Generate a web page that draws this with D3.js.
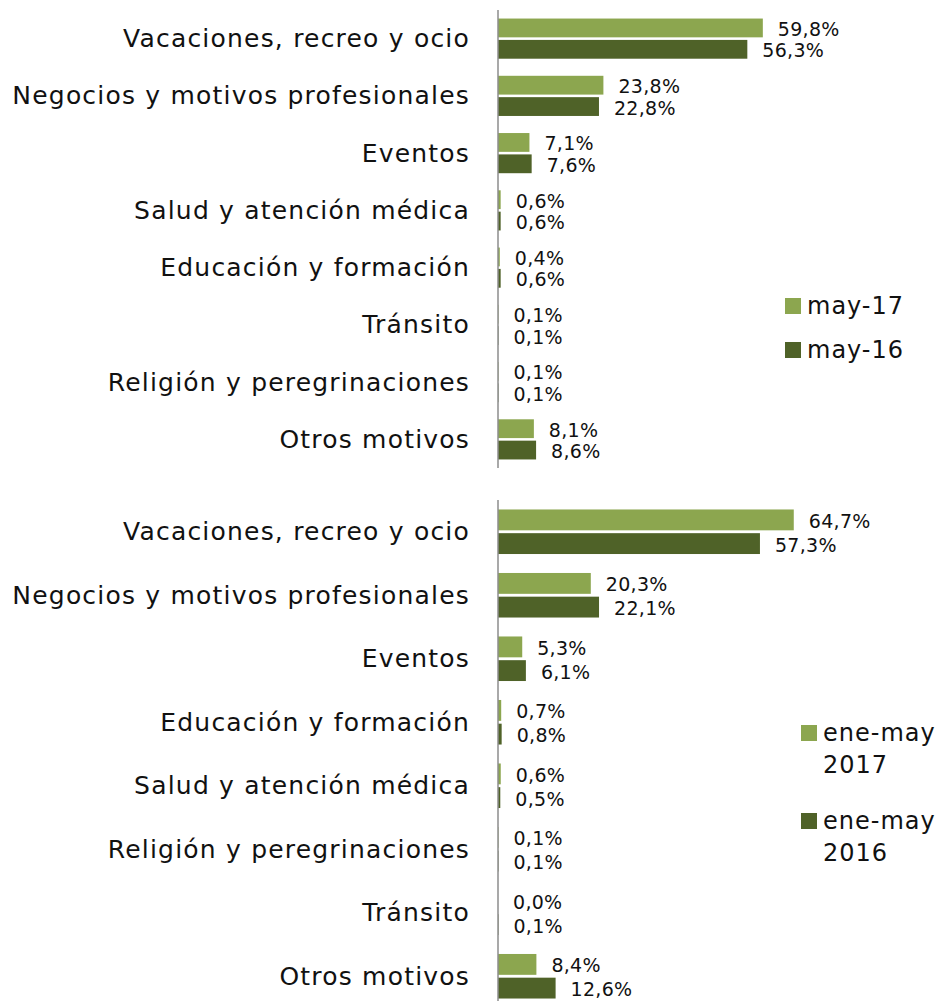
<!DOCTYPE html>
<html>
<head>
<meta charset="utf-8">
<script src="https://cdn.jsdelivr.net/npm/d3@7"></script>
<style>
  body { margin: 0; background: #fff; }
  svg text { font-family: "DejaVu Sans", sans-serif; fill: #111; }
</style>
</head>
<body>
<div id="chart"></div>
<script>
// top chart: mes de mayo
const catsMay = ["Vacaciones, recreo y ocio", "Negocios y motivos profesionales", "Eventos",
    "Salud y atención médica", "Educación y formación", "Tránsito",
    "Religión y peregrinaciones", "Otros motivos"];
const may17 = [59.8, 23.8, 7.1, 0.6, 0.4, 0.1, 0.1, 8.1];
const may16 = [56.3, 22.8, 7.6, 0.6, 0.6, 0.1, 0.1, 8.6];
const seriesMay = ["may-17", "may-16"];

// bottom chart: enero-mayo acumulado
const catsYtd = ["Vacaciones, recreo y ocio", "Negocios y motivos profesionales", "Eventos",
    "Educación y formación", "Salud y atención médica", "Religión y peregrinaciones",
    "Tránsito", "Otros motivos"];
const ytd17 = [64.7, 20.3, 5.3, 0.7, 0.6, 0.1, 0.0, 8.4];
const ytd16 = [57.3, 22.1, 6.1, 0.8, 0.5, 0.1, 0.1, 12.6];
const seriesYtd = [["ene-may", "2017"], ["ene-may", "2016"]];

const colors = ["#8ca64f", "#4f6228"];

const fmt = d3.formatLocale({decimal: ",", thousands: ".", grouping: [3], currency: ["", "€"]}).format(".1f");

const svg = d3.select("#chart").append("svg")
    .attr("width", 948)
    .attr("height", 1001);

function barChart(cfg) {
    const g = svg.append("g");

    let y = d3.scaleBand()
        .domain(cfg.cats)
        .range([cfg.top, cfg.bottom]);

    let x = d3.scaleLinear().domain([0, 70]).range([cfg.left, cfg.left + cfg.width]);

    // two bars per category
    let y1 = d3.scaleBand().domain([0, 1]).range([0, y.bandwidth()]).paddingInner(0.12).paddingOuter(0.4);

    let rows = cfg.cats.map((c, i) => ({cat: c, vals: [cfg.a[i], cfg.b[i]]}));

    let row = g.selectAll("g.row")
        .data(rows)
        .enter().append("g")
        .attr("transform", d => "translate(0," + y(d.cat) + ")");

    row.selectAll("rect")
        .data(d => d.vals)
        .enter().append("rect")
        .attr("x", x(0))
        .attr("y", (d, i) => y1(i))
        .attr("width", d => x(d) - x(0))
        .attr("height", y1.bandwidth())
        .attr("fill", (d, i) => colors[i]);

    row.selectAll("text.val")
        .data(d => d.vals)
        .enter().append("text")
        .attr("class", "val")
        .attr("x", d => x(d) + 15)
        .attr("y", (d, i) => y1(i) + y1.bandwidth() / 2 + 1)
        .attr("dominant-baseline", "central")
        .style("font-size", "19px")
        .style("letter-spacing", "0.3px")
        .text(d => fmt(d) + "%");

    // category labels
    g.selectAll("text.cat")
        .data(cfg.cats)
        .enter().append("text")
        .attr("class", "cat")
        .attr("x", cfg.left - 28)
        .attr("y", d => y(d) + y.bandwidth() / 2)
        .attr("text-anchor", "end")
        .attr("dominant-baseline", "central")
        .style("font-size", "25px")
        .style("letter-spacing", "1.2px")
        .text(d => d);

    // vertical axis line
    g.append("line")
        .attr("x1", x(0)).attr("x2", x(0))
        .attr("y1", cfg.top).attr("y2", Math.min(cfg.bottom, 1001))
        .attr("stroke", "#8c8c8c")
        .attr("stroke-width", 1.5);

    // legend
    let leg = g.selectAll("g.leg")
        .data(cfg.series)
        .enter().append("g")
        .attr("transform", (d, i) => "translate(" + cfg.legX + "," + (cfg.legY + i * cfg.legStep) + ")");

    leg.append("rect")
        .attr("width", 16).attr("height", 16)
        .attr("fill", (d, i) => colors[i]);

    leg.append("text")
        .attr("x", 22)
        .attr("y", 8)
        .attr("dominant-baseline", "central")
        .style("font-size", "24px")
        .style("letter-spacing", "1px")
        .selectAll("tspan")
        .data(d => [].concat(d))
        .enter().append("tspan")
        .attr("x", 22)
        .attr("dy", (d, i) => i === 0 ? 0 : 32)
        .text(d => d);
}

barChart({cats: catsMay, a: may17, b: may16, series: seriesMay,
    top: 10, bottom: 468, left: 498, width: 310,
    legX: 785, legY: 298, legStep: 44});

barChart({cats: catsYtd, a: ytd17, b: ytd16, series: seriesYtd,
    top: 500, bottom: 1008, left: 498, width: 320,
    legX: 801, legY: 725, legStep: 88});
</script>
</body>
</html>
